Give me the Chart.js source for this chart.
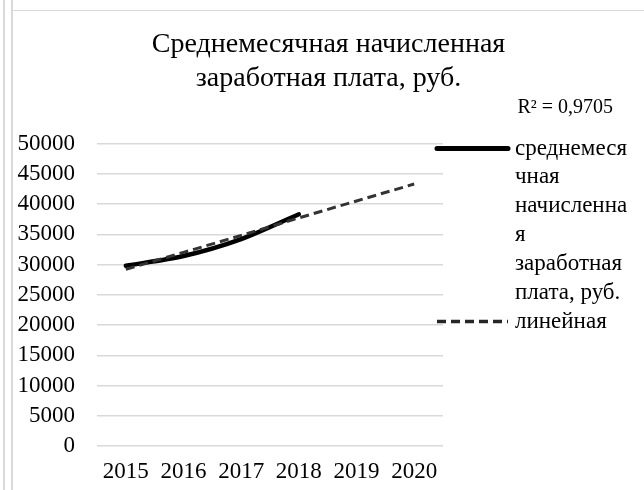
<!DOCTYPE html>
<html>
<head>
<meta charset="utf-8">
<script src="https://cdn.jsdelivr.net/npm/chart.js@4/dist/chart.umd.min.js"></script>
<style>
  body { margin: 0; background: #fff; }
  .edge1 { position: absolute; left: 3px; top: 0; width: 2px; height: 490px; background: #d9d9d9; }
  .edge2 { position: absolute; left: 11px; top: 0; width: 2px; height: 490px; background: #d9d9d9; }
  .top { position: absolute; left: 11px; top: 10px; width: 633px; height: 1px; background: #d9d9d9; }
  #box { position: absolute; left: 13px; top: 11px; width: 631px; height: 479px; }
</style>
</head>
<body>
<div class="edge1"></div>
<div class="edge2"></div>
<div class="top"></div>
<div id="box"><canvas id="chart"></canvas></div>
<script>
// data
const years = ['2015', '2016', '2017', '2018', '2019', '2020'];
const salary = [29800, 31400, 34200, 38300, null, null];
const trend = [29200, 32000, 34800, 37700, 40500, 43300];
const yTicks = [0, 5000, 10000, 15000, 20000, 25000, 30000, 35000, 40000, 45000, 50000];
const titleLines = ['Среднемесячная начисленная', 'заработная плата, руб.'];
const salaryLabel = ['среднемеся', 'чная', 'начисленна', 'я', 'заработная', 'плата, руб.'];
const trendLabel = ['линейная'];
const r2Text = 'R² = 0,9705';

const FONT = "'Liberation Serif', 'Times New Roman', serif";

// legend on the right with wrapped text, plus the R² label
const sideLegend = {
  id: 'sideLegend',
  afterDraw(chart) {
    const ctx = chart.ctx;
    const a = chart.chartArea;
    ctx.save();
    ctx.fillStyle = '#000';
    ctx.textBaseline = 'middle';

    // R² label
    ctx.font = '20px ' + FONT;
    ctx.textAlign = 'right';
    ctx.fillText(r2Text, a.right + 170, a.top - 36);

    ctx.font = '23px ' + FONT;
    ctx.textAlign = 'left';
    const x0 = a.right - 6, x1 = a.right + 65, tx = a.right + 72;
    let y = a.top + 5;
    // solid series
    ctx.strokeStyle = '#000';
    ctx.lineWidth = 5;
    ctx.lineCap = 'round';
    ctx.beginPath(); ctx.moveTo(x0, y); ctx.lineTo(x1, y); ctx.stroke();
    salaryLabel.forEach((t, i) => ctx.fillText(t, tx, y + i * 28.8));
    // trend
    y = a.top + 178;
    ctx.strokeStyle = '#262626';
    ctx.lineWidth = 3.5;
    ctx.lineCap = 'butt';
    ctx.setLineDash([9, 5]);
    ctx.beginPath(); ctx.moveTo(x0, y); ctx.lineTo(x1, y); ctx.stroke();
    ctx.setLineDash([]);
    trendLabel.forEach((t, i) => ctx.fillText(t, tx, y + i * 28.8));
    ctx.restore();
  }
};

new Chart(document.getElementById('chart'), {
  type: 'line',
  data: {
    labels: years,
    datasets: [
      {
        label: salaryLabel.join(''),
        data: salary,
        borderColor: '#000',
        borderWidth: 4.5,
        pointRadius: 0,
        tension: 0.3,
        borderCapStyle: 'round',
        order: 1
      },
      {
        label: trendLabel[0],
        data: trend,
        borderColor: '#333333',
        borderWidth: 3,
        borderDash: [9, 5],
        pointRadius: 0,
        tension: 0,
        order: 0
      }
    ]
  },
  options: {
    responsive: true,
    maintainAspectRatio: false,
    animation: false,
    layout: { padding: 0 },
    plugins: {
      legend: { display: false },
      tooltip: { enabled: false },
      title: {
        display: true,
        text: titleLines,
        color: '#000',
        font: { family: FONT, size: 28, weight: 'normal', lineHeight: 34 / 28 },
        padding: { top: 17, bottom: 47.5 }
      }
    },
    scales: {
      x: {
        offset: true,
        grid: { display: false },
        border: { display: false },
        ticks: { color: '#000', font: { family: FONT, size: 23 }, padding: 4, maxRotation: 0, autoSkip: false },
        afterFit(s) { s.height = 44; }
      },
      y: {
        min: 0,
        max: 50000,
        afterBuildTicks(s) { s.ticks = yTicks.map(v => ({ value: v })); },
        grid: { color: '#d9d9d9', lineWidth: 1.5, drawTicks: false },
        border: { display: false },
        ticks: { color: '#000', font: { family: FONT, size: 23 }, padding: 22, autoSkip: false, callback: v => String(v) },
        afterFit(s) { s.width = 84; }
      },
      // empty axis that only keeps room for the legend on the right
      side: {
        position: 'right',
        display: true,
        grid: { display: false },
        border: { display: false },
        ticks: { display: false },
        afterFit(s) { s.width = 201; }
      }
    }
  },
  plugins: [sideLegend]
});
</script>
</body>
</html>
